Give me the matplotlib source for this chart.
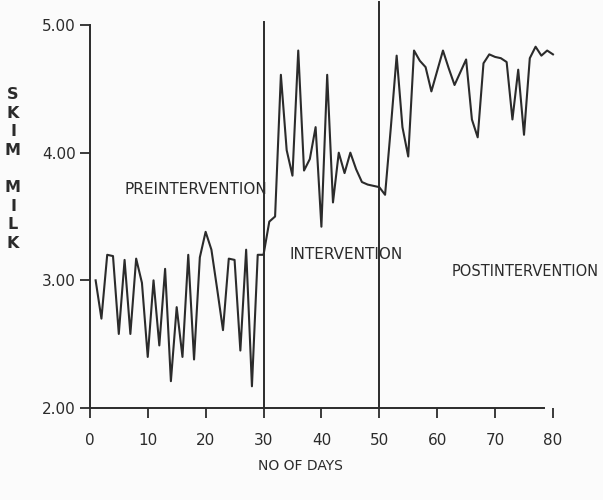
import matplotlib
matplotlib.use('Agg')
import matplotlib.pyplot as plt

# daily skim milk readings
days = list(range(1, 81))
skim_milk = [
    3.00, 2.70, 3.20, 3.19, 2.58, 3.16, 2.58, 3.17, 2.98, 2.40,   # 1-10
    3.00, 2.49, 3.09, 2.21, 2.79, 2.40, 3.20, 2.38, 3.18, 3.38,   # 11-20
    3.24, 2.93, 2.61, 3.17, 3.16, 2.45, 3.24, 2.17, 3.20, 3.20,   # 21-30
    3.46, 3.50, 4.61, 4.02, 3.82, 4.80, 3.86, 3.95, 4.20, 3.42,   # 31-40
    4.61, 3.61, 4.00, 3.84, 4.00, 3.87, 3.77, 3.75, 3.74, 3.73,   # 41-50
    3.67, 4.20, 4.76, 4.20, 3.97, 4.80, 4.72, 4.67, 4.48, 4.64,   # 51-60
    4.80, 4.66, 4.53, 4.63, 4.73, 4.26, 4.12, 4.70, 4.77, 4.75,   # 61-70
    4.74, 4.71, 4.26, 4.65, 4.14, 4.74, 4.83, 4.76, 4.80, 4.77,   # 71-80
]
phase_breaks = [30, 50]
phase_names = ['PREINTERVENTION', 'INTERVENTION', 'POSTINTERVENTION']
x_ticks = [0, 10, 20, 30, 40, 50, 60, 70, 80]
y_ticks = [2.0, 3.0, 4.0, 5.0]
y_labels = ['2.00', '3.00', '4.00', '5.00']

plt.rcParams['font.family'] = ['DejaVu Sans']
ink = '#2b2b2b'

fig = plt.figure(figsize=(6.03, 5.00), dpi=100, facecolor='#fbfbfb')
ax = fig.add_axes([0.149, 0.184, 0.768, 0.766])
ax.set_facecolor('#fbfbfb')

ax.plot(days, skim_milk, color=ink, lw=1.5, clip_on=False)

# phase separators
ax.plot([phase_breaks[0]] * 2, [2.0, 5.02], color=ink, lw=1.4, clip_on=False)
ax.plot([phase_breaks[1]] * 2, [2.0, 5.18], color=ink, lw=1.4, clip_on=False)

ax.text(6, 3.71, phase_names[0], fontsize=11, color=ink, va='center')
ax.text(34.5, 3.2, phase_names[1], fontsize=11, color=ink, va='center')
ax.text(62.5, 3.07, phase_names[2], fontsize=10.5, color=ink, va='center', clip_on=False)

ax.set_xlim(0, 80)
ax.set_ylim(2, 5)
ax.set_xticks(x_ticks)
ax.set_yticks(y_ticks)
ax.set_yticklabels(y_labels)
ax.tick_params(axis='both', colors=ink, labelsize=11, width=1.3, length=7, direction='out')
ax.tick_params(axis='x', pad=11)
ax.tick_params(axis='y', pad=3)

for s in ['top', 'right']:
    ax.spines[s].set_visible(False)
for s in ['left', 'bottom']:
    ax.spines[s].set_color(ink)
    ax.spines[s].set_linewidth(1.4)
ax.spines['bottom'].set_bounds(0, 78.5)

fig.text(300 / 603, 1 - 466 / 500, 'NO OF DAYS', fontsize=10, color=ink,
         ha='center', va='center')
fig.text(13 / 603, 1 - 169 / 500, 'S\nK\nI\nM\n\nM\nI\nL\nK', fontsize=11.5, color=ink,
         ha='center', va='center', linespacing=1.3, fontweight='bold')

fig.savefig('out.png', dpi=100, facecolor=fig.get_facecolor())
